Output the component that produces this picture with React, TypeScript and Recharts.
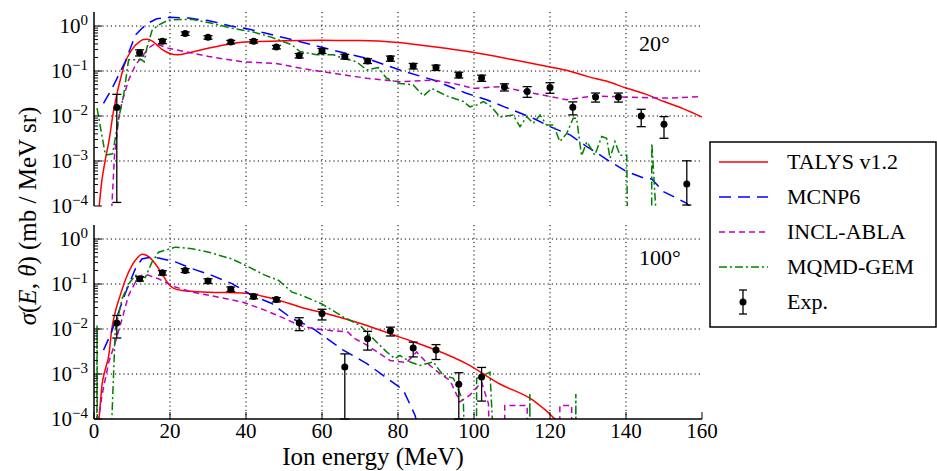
import React from 'react';
import { ComposedChart, Line, Scatter, ErrorBar, XAxis, YAxis, CartesianGrid } from 'recharts';

type Pt = [number, number];

// ---- 20 deg panel ----
const talys20: Pt[] = [
  [1, 5e-5], [1.5, 1.3e-4], [2, 3.3e-4], [3, 1.1e-3], [4, 3e-3], [5, 0.011], [6, 0.03], [7, 0.068], [8, 0.14],
  [10, 0.3], [12, 0.45], [13, 0.5], [14, 0.51], [15, 0.48], [16, 0.42], [17, 0.35], [18, 0.3], [20, 0.245],
  [22, 0.23], [25, 0.255], [30, 0.32], [35, 0.39], [40, 0.44], [50, 0.47], [60, 0.48], [70, 0.475], [80, 0.43],
  [90, 0.34], [100, 0.257], [110, 0.18], [120, 0.123], [125, 0.1], [130, 0.075], [135, 0.059], [140, 0.042],
  [145, 0.031], [150, 0.021], [155, 0.0146], [160, 0.0095],
];
const mcnp20: Pt[] = [
  [2.5, 0.019], [4, 0.032], [5.2, 0.049], [6.5, 0.082], [8.2, 0.16], [9.5, 0.31], [10.9, 0.63], [12.5, 0.87],
  [14, 1.13], [16.5, 1.45], [20, 1.56], [25, 1.5], [30, 1.32], [36, 1.0], [40, 0.88], [45, 0.7], [52, 0.5],
  [55, 0.43], [63, 0.29], [71.8, 0.19], [80.5, 0.105], [89.3, 0.063], [98, 0.032], [103.3, 0.023], [108, 0.016],
  [115.6, 0.0089], [120, 0.0058], [125.3, 0.0038], [129.7, 0.0021], [135.8, 0.00097], [140.2, 0.00058],
  [144.6, 0.00042], [146.8, 0.0004], [149.8, 0.00021], [156, 0.000115], [157, 9e-5],
];
const incl20: Pt[] = [
  [4.6, 5e-5], [4.7, 1e-4], [5.4, 1.35e-3], [6.5, 0.009], [7.4, 0.021], [9.1, 0.063], [10.9, 0.135], [12.6, 0.21],
  [14.5, 0.33], [16.1, 0.41], [19.6, 0.32], [24, 0.27], [30.2, 0.21], [39, 0.16], [47.7, 0.148], [54.5, 0.115],
  [63, 0.089], [71.8, 0.069], [80.5, 0.058], [89.3, 0.063], [94.6, 0.053], [99.8, 0.041], [106.8, 0.045],
  [115.6, 0.032], [124.4, 0.023], [131.4, 0.028], [141.9, 0.026], [150.7, 0.025], [160, 0.027],
];
const mqmd20: Pt[] = [
  [0.8, 0.015], [3, 1.35e-3], [4.9, 1.45e-3], [6.5, 0.009], [7.8, 0.029], [9.1, 0.177], [12.6, 0.177],
  [13.2, 0.16], [13.9, 0.32], [15.3, 0.81], [17, 1.05], [19.6, 1.36], [25.8, 1.41], [31, 1.15], [36.3, 0.89],
  [41.6, 0.75], [46.8, 0.56], [52.1, 0.38], [54.2, 0.27], [58.6, 0.23], [63, 0.23], [65.6, 0.19], [69.1, 0.16],
  [71.8, 0.105], [74.8, 0.119], [77, 0.069], [80.5, 0.053], [84, 0.049], [86.7, 0.028], [88.9, 0.041],
  [92.8, 0.028], [97.2, 0.021], [98.9, 0.016], [100.7, 0.0175], [102.5, 0.021], [104.6, 0.016], [106.8, 0.0095],
  [110.3, 0.0105], [112.1, 0.0058], [113.9, 0.0097], [115.6, 0.0069], [117.4, 0.0105], [119.1, 0.0063],
  [120.9, 0.0063], [122.6, 0.0027], [124.4, 0.0041], [126.1, 0.0089], [127, 0.0089], [128.3, 0.0013],
  [129.7, 0.0027], [131.8, 0.00135], [133.6, 0.0035], [134.9, 0.0032], [135.8, 0.00115], [137.1, 0.0027],
  [138.4, 0.00135], [140.2, 0.00135], [140.6, 1e-6], [146.7, 1e-6], [146.8, 0.0025], [148.5, 1e-5],
];
const exp20E = [6, 12, 18, 24, 30, 36, 42, 48, 54, 60, 66, 72, 78, 84, 90, 96, 102, 108, 114, 120, 126, 132, 138, 144, 150, 156];
const exp20V = [0.0155, 0.256, 0.457, 0.68, 0.56, 0.44, 0.457, 0.34, 0.22, 0.28, 0.21, 0.167, 0.19, 0.129, 0.119, 0.082, 0.07, 0.044, 0.035, 0.043, 0.0156, 0.0264, 0.0264, 0.01, 0.0066, 0.00031];
const exp20Lo = [0.01538, 0.04, 0.05, 0.06, 0.05, 0.04, 0.04, 0.03, 0.025, 0.035, 0.025, 0.02, 0.025, 0.018, 0.016, 0.012, 0.011, 0.008, 0.009, 0.011, 0.005, 0.006, 0.006, 0.0042, 0.0034, 0.000205];
const exp20Hi = [0.0148, 0.04, 0.05, 0.06, 0.05, 0.04, 0.04, 0.03, 0.025, 0.035, 0.025, 0.02, 0.025, 0.018, 0.016, 0.012, 0.011, 0.008, 0.01, 0.012, 0.005, 0.006, 0.006, 0.0041, 0.0031, 0.0007];

// ---- 100 deg panel ----
const talys100: Pt[] = [
  [1, 5e-5], [1.5, 1.5e-4], [2.1, 5.6e-4], [3, 1.3e-3], [3.9, 2.6e-3], [4.7, 0.0102], [5.6, 0.024], [6.9, 0.056],
  [8.2, 0.12], [10, 0.26], [11.5, 0.39], [12.6, 0.46], [13.9, 0.43], [15.5, 0.33], [17, 0.22], [18.5, 0.14],
  [19.6, 0.1], [21, 0.08], [23.2, 0.072], [30.2, 0.066], [39, 0.063], [47.7, 0.046], [54.2, 0.031], [63, 0.02],
  [71.8, 0.012], [80.5, 0.0066], [89.3, 0.0036], [98, 0.0017], [106.8, 0.0006], [115.6, 0.00026], [121.3, 0.0001],
  [123, 7e-5],
];
const mcnp100: Pt[] = [
  [2.5, 0.0034], [4.3, 0.0073], [6.5, 0.024], [8.2, 0.061], [10.9, 0.22], [12.6, 0.36], [14.5, 0.39], [17, 0.38],
  [21.4, 0.31], [25.8, 0.22], [31, 0.156], [36.3, 0.102], [41.6, 0.056], [46.8, 0.037], [52.1, 0.017],
  [54.2, 0.0144], [57.7, 0.0102], [61.2, 0.0062], [65.6, 0.0034], [71.8, 0.0017], [76.1, 0.00093],
  [81.4, 0.00044], [84.5, 0.00012], [85, 8e-5],
];
const incl100: Pt[] = [
  [1, 5e-5], [1.2, 1e-4], [2.1, 3.4e-4], [3.9, 1.85e-3], [5.6, 0.0051], [7.4, 0.017], [9.1, 0.056], [10.9, 0.11],
  [12.6, 0.156], [14, 0.16], [17, 0.13], [21.4, 0.086], [25.8, 0.066], [32.8, 0.051], [39, 0.04], [45.1, 0.026],
  [50.3, 0.017], [54, 0.012], [57.7, 0.0102], [62.1, 0.0093], [66.8, 0.0086], [68.5, 0.0062], [71.8, 0.0044],
  [77.9, 0.002], [82.3, 0.0018], [84.9, 0.0031], [87.5, 0.0018], [91, 0.00102], [93.7, 0.00072], [96.3, 0.00024],
  [98.9, 0.00034], [102, 0.00066], [103.8, 0.00022], [104.5, 1e-6], [108, 1e-6], [108.1, 2e-4], [114, 2e-4],
  [114.1, 1e-6], [122.5, 1e-6], [122.6, 2e-4], [125.7, 2e-4], [125.8, 1e-6],
];
const mqmd100: Pt[] = [
  [0.7, 1e-6], [0.8, 0.012], [0.9, 1e-6], [4.6, 1e-6], [4.7, 1e-4], [5.6, 0.01], [7.4, 0.047], [9.1, 0.1],
  [10.9, 0.156], [12.6, 0.143], [13.5, 0.14], [15.3, 0.31], [17, 0.51], [21.4, 0.66], [25.8, 0.61], [30.2, 0.51],
  [36.3, 0.36], [40.7, 0.24], [45.1, 0.156], [48.6, 0.12], [52.1, 0.066], [54.2, 0.058], [60, 0.036],
  [65.6, 0.0185], [70, 0.012], [74.4, 0.0051], [77, 0.0031], [79.2, 0.0022], [80.5, 0.0026], [83.2, 0.00185],
  [85.8, 0.00155], [89.3, 0.00185], [91.9, 0.00093], [94.6, 0.0008], [97.2, 0.00024], [98, 1e-6], [100.6, 1e-6],
  [100.7, 0.0008], [104.2, 0.0011], [106, 1e-6], [114.6, 1e-6], [114.7, 0.00036], [114.8, 1e-6], [126.7, 1e-6],
  [126.8, 0.00036], [126.9, 1e-6],
];
const exp100E = [6, 12, 18, 24, 30, 36, 42, 48, 54, 60, 66, 72, 78, 84, 90, 96, 102];
const exp100V = [0.0136, 0.131, 0.178, 0.2, 0.117, 0.077, 0.053, 0.045, 0.0138, 0.022, 0.00143, 0.0061, 0.0091, 0.0038, 0.0034, 0.00059, 0.00086];
const exp100Lo = [0.0073, 0.015, 0.02, 0.02, 0.014, 0.009, 0.006, 0.005, 0.0046, 0.0061, 0.00133, 0.0027, 0.0021, 0.0014, 0.0013, 0.00049, 0.00061];
const exp100Hi = [0.0064, 0.015, 0.02, 0.02, 0.014, 0.009, 0.006, 0.005, 0.004, 0.0055, 0.00137, 0.0028, 0.0019, 0.0013, 0.0011, 0.00048, 0.00054];

// ---- axes ----
const xTicks = [0, 20, 40, 60, 80, 100, 120, 140, 160];
const xGrid = [20, 40, 60, 80, 100, 120, 140];
const yMajor = [1e-4, 1e-3, 1e-2, 1e-1, 1];
const yGrid = [1e-3, 1e-2, 1e-1, 1];
const yMinor: number[] = [];
[1e-4, 1e-3, 1e-2, 1e-1].forEach((d) => {
  for (let k = 2; k <= 9; k++) yMinor.push(k * d);
});
const yTicks = [...yMajor, ...yMinor].sort((a, b) => a - b);

const FONT = '"Liberation Serif", "Times New Roman", serif';
const Y_DOMAIN: [number, number] = [1e-4, 2.05];
const AXIS_LINE = { stroke: '#000', strokeWidth: 1.5 };

const SERIES = [
  { key: 'talys', name: 'TALYS v1.2', color: '#ff0000', dash: undefined as string | undefined, curve: 'monotone' },
  { key: 'mcnp', name: 'MCNP6', color: '#0000ff', dash: '12 7', curve: 'linear' },
  { key: 'incl', name: 'INCL-ABLA', color: '#bf00bf', dash: '6 4', curve: 'linear' },
  { key: 'mqmd', name: 'MQMD-GEM', color: '#008000', dash: '8 3 2 3', curve: 'linear' },
];

const rows = (pts: Pt[]) => pts.map(([e, v]) => ({ e, v }));
const expRows = (E: number[], V: number[], lo: number[], hi: number[]) =>
  E.map((e, i) => ({ e, v: V[i], err: [lo[i], hi[i]] }));

const panels = [
  {
    curves: { talys: talys20, mcnp: mcnp20, incl: incl20, mqmd: mqmd20 } as Record<string, Pt[]>,
    exp: expRows(exp20E, exp20V, exp20Lo, exp20Hi),
  },
  {
    curves: { talys: talys100, mcnp: mcnp100, incl: incl100, mqmd: mqmd100 } as Record<string, Pt[]>,
    exp: expRows(exp100E, exp100V, exp100Lo, exp100Hi),
  },
];

const isMajor = (v: number) => Math.abs(Math.log10(v) - Math.round(Math.log10(v))) < 1e-6;

const XTick = (props: any) => {
  const { x, y, payload, side, labels } = props;
  const dir = side === 'top' ? 1 : -1;
  return (
    <g>
      <line x1={x} x2={x} y1={y} y2={y + dir * 7} stroke="#000" strokeWidth={1} />
      {labels && (
        <text x={x} y={y + 18.5} textAnchor="middle" fontFamily={FONT} fontSize={21} fill="#000">
          {payload.value}
        </text>
      )}
    </g>
  );
};

const YTick = (props: any) => {
  const { x, y, payload, side } = props;
  const v = payload.value as number;
  const major = isMajor(v);
  const dir = side === 'left' ? 1 : -1;
  const p = Math.round(Math.log10(v));
  return (
    <g>
      <line x1={x} x2={x + dir * (major ? 8 : 4)} y1={y} y2={y} stroke="#000" strokeWidth={1} />
      {side === 'left' && major && (
        <text x={x - 6} y={y + 7} textAnchor="end" fontFamily={FONT} fontSize={21} fill="#000">
          10
          <tspan dy={-8} fontSize={15}>{p === 0 ? '0' : '\u2212' + -p}</tspan>
        </text>
      )}
    </g>
  );
};

function Panel({ idx, height, margin, labels }: { idx: number; height: number; margin: any; labels: boolean }) {
  const panel = panels[idx];
  return (
    <ComposedChart width={937} height={height} margin={margin} style={{ overflow: 'visible' }}>
      <CartesianGrid
        stroke="#000"
        strokeWidth={1}
        strokeDasharray="1.2 3"
        horizontalValues={yGrid}
        verticalValues={xGrid}
      />
      <XAxis
        dataKey="e"
        type="number"
        domain={[0, 160]}
        allowDataOverflow
        ticks={xTicks}
        interval={0}
        height={labels ? 40 : 0}
        tickSize={0}
        tickMargin={0}
        tickLine={false}
        axisLine={AXIS_LINE}
        tick={<XTick side="bottom" labels={labels} />}
      />
      <XAxis
        xAxisId="t"
        orientation="top"
        dataKey="e"
        type="number"
        domain={[0, 160]}
        allowDataOverflow
        ticks={xTicks}
        interval={0}
        height={0}
        tickSize={0}
        tickMargin={0}
        tickLine={false}
        axisLine={AXIS_LINE}
        tick={<XTick side="top" labels={false} />}
      />
      <YAxis
        dataKey="v"
        scale="log"
        type="number"
        domain={Y_DOMAIN}
        allowDataOverflow
        ticks={yTicks}
        interval={0}
        width={60}
        tickSize={0}
        tickMargin={0}
        tickLine={false}
        axisLine={AXIS_LINE}
        tick={<YTick side="left" />}
      />
      <YAxis
        yAxisId="r"
        orientation="right"
        dataKey="v"
        scale="log"
        type="number"
        domain={Y_DOMAIN}
        allowDataOverflow
        ticks={yTicks}
        interval={0}
        width={0}
        tickSize={0}
        tickMargin={0}
        tickLine={false}
        axisLine={AXIS_LINE}
        tick={<YTick side="right" />}
      />
      {SERIES.map((s) => (
        <Line
          key={s.key}
          data={rows(panel.curves[s.key])}
          dataKey="v"
          type={s.curve as any}
          stroke={s.color}
          strokeWidth={1.5}
          strokeDasharray={s.dash}
          dot={false}
          activeDot={false}
          isAnimationActive={false}
        />
      ))}
      <Scatter
        data={panel.exp}
        dataKey="v"
        isAnimationActive={false}
        shape={(p: any) => <circle cx={p.cx} cy={p.cy} r={3.5} fill="#000" />}
      >
        <ErrorBar dataKey="err" direction="y" width={4.5} stroke="#000" strokeWidth={1.3} isAnimationActive={false} />
      </Scatter>
    </ComposedChart>
  );
}

const LEGEND_Y = [162, 197, 232, 267, 302];

export default function App() {
  return (
    <div style={{ position: 'absolute', left: 0, top: 0, width: 937, height: 471, background: '#fff' }}>
      <div style={{ position: 'absolute', left: 0, top: 215 }}>
        <Panel idx={1} height={256} margin={{ top: 10, right: 235, bottom: 12, left: 34 }} labels />
      </div>
      <div style={{ position: 'absolute', left: 0, top: 0 }}>
        <Panel idx={0} height={222} margin={{ top: 12, right: 235, bottom: 16, left: 34 }} labels={false} />
      </div>
      <svg
        width={937}
        height={471}
        style={{ position: 'absolute', left: 0, top: 0, pointerEvents: 'none' }}
        fontFamily={FONT}
      >
        <text transform="translate(36,216) rotate(-90)" textAnchor="middle" fontSize={25} fill="#000">
          <tspan fontStyle="italic">σ</tspan>(<tspan fontStyle="italic">E</tspan>,{' '}
          <tspan fontStyle="italic">θ</tspan>) (mb / MeV sr)
        </text>
        <text x={373} y={465} textAnchor="middle" fontSize={25} fill="#000">
          Ion energy (MeV)
        </text>
        <text x={639} y={51} fontSize={22} fill="#000">20°</text>
        <text x={639} y={265} fontSize={22} fill="#000">100°</text>
        <rect x={710} y={142} width={226} height={185} fill="#fff" stroke="#000" strokeWidth={1.5} />
        {SERIES.map((s, i) => (
          <g key={s.key}>
            <line x1={719} x2={768} y1={LEGEND_Y[i]} y2={LEGEND_Y[i]} stroke={s.color} strokeWidth={1.5} strokeDasharray={s.dash} />
            <text x={787} y={LEGEND_Y[i] + 7} fontSize={22} fill="#000">{s.name}</text>
          </g>
        ))}
        <g>
          <line x1={743} x2={743} y1={290} y2={314} stroke="#000" strokeWidth={1.3} />
          <line x1={739} x2={747} y1={290} y2={290} stroke="#000" strokeWidth={1.3} />
          <line x1={739} x2={747} y1={314} y2={314} stroke="#000" strokeWidth={1.3} />
          <circle cx={743} cy={302} r={3.5} fill="#000" />
          <text x={787} y={309} fontSize={22} fill="#000">Exp.</text>
        </g>
      </svg>
    </div>
  );
}
